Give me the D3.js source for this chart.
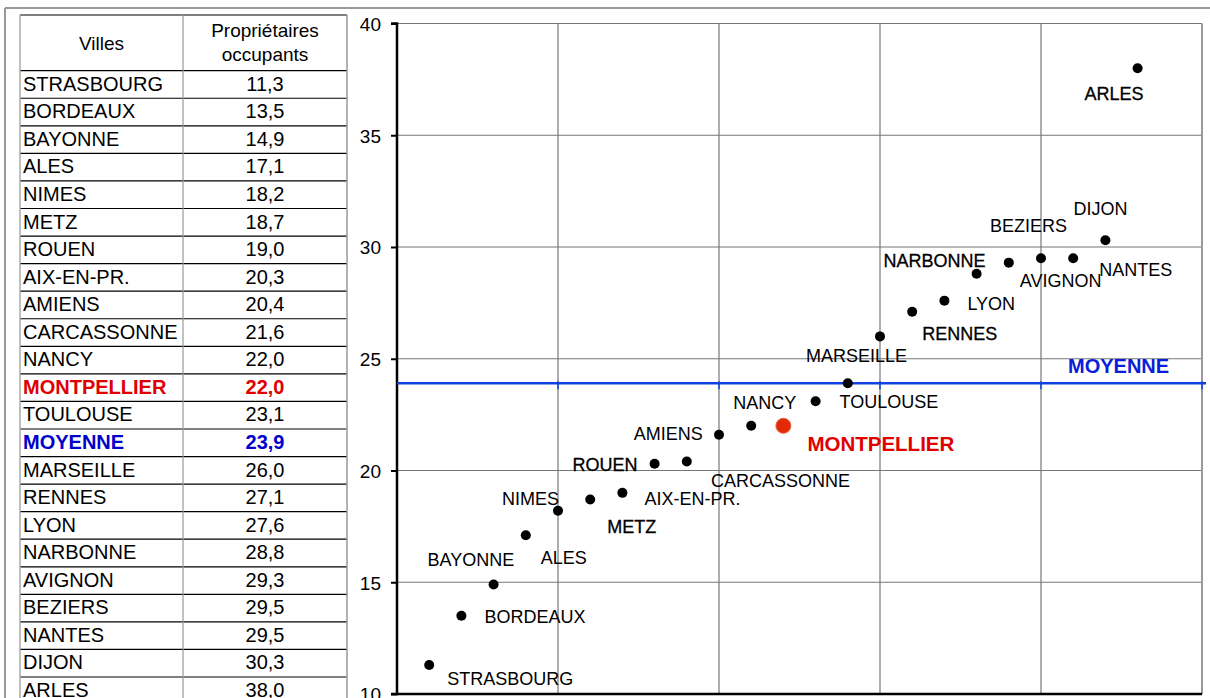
<!DOCTYPE html>
<html><head><meta charset="utf-8">
<script src="https://cdn.jsdelivr.net/npm/d3@7"></script>
<style>body{margin:0;background:#fff;overflow:hidden}svg{display:block;font-family:"Liberation Sans",Arial,sans-serif}</style>
</head><body>
<svg id="c" width="1210" height="698"></svg>
<script>
const villes = ["STRASBOURG","BORDEAUX","BAYONNE","ALES","NIMES","METZ","ROUEN","AIX-EN-PR.","AMIENS","CARCASSONNE","NANCY","MONTPELLIER","TOULOUSE","MOYENNE","MARSEILLE","RENNES","LYON","NARBONNE","AVIGNON","BEZIERS","NANTES","DIJON","ARLES"];
const valeurs = [11.3,13.5,14.9,17.1,18.2,18.7,19.0,20.3,20.4,21.6,22.0,22.0,23.1,23.9,26.0,27.1,27.6,28.8,29.3,29.5,29.5,30.3,38.0];
const yTicks = [10,15,20,25,30,35,40];
const xTicks = [0,5,10,15,20,25];
const header = ["Villes","Propriétaires","occupants"];
const moyenneNom = "MOYENNE";
const montpellierNom = "MONTPELLIER";
// label offsets (layout only) relative to each point
const labelOffsets = [[18,20],[23,7],[-66,-18],[15,29],[-56,-6],[17,33],[-50,-22],[-10,41],[-53,-22],[-8,52],[-18,-17],[24,25],[24,7],null,[-74,26],[10,28],[23,9],[-93,-7],[11,24],[-51,-26],[26,18],[-32,-25],[-53,32]];
const heavy = new Set(["ROUEN","METZ","NARBONNE","RENNES","ARLES"]);

const svg = d3.select("#c");
const fmt = v => d3.format(".1f")(v).replace(".", ",");
const colorOf = n => n === montpellierNom ? "#e00000" : (n === moyenneNom ? "#0000cc" : "#000");

// outer frame
svg.append("line").attr("x1",5).attr("x2",1210).attr("y1",8).attr("y2",8).attr("stroke","#999").attr("stroke-width",2);
svg.append("line").attr("x1",5).attr("x2",5).attr("y1",8).attr("y2",698).attr("stroke","#999").attr("stroke-width",2);

// ---- table ----
const tL = 20, tM = 183, tR = 347, tTop = 15, hBot = 70.7, rowH = 27.56;
const tb = svg.append("g");
tb.append("line").attr("x1",tL).attr("x2",tR).attr("y1",tTop).attr("y2",tTop).attr("stroke","#000").attr("stroke-width",1.2);
const rowY = i => hBot + i*rowH;
villes.forEach((v,i)=>{
  tb.append("line").attr("x1",tL).attr("x2",tR).attr("y1",rowY(i)).attr("y2",rowY(i)).attr("stroke","#000").attr("stroke-width",1.2);
});
tb.append("line").attr("x1",tL).attr("x2",tL).attr("y1",tTop).attr("y2",698).attr("stroke","#aaa").attr("stroke-width",1.5);
tb.append("line").attr("x1",tM).attr("x2",tM).attr("y1",tTop).attr("y2",698).attr("stroke","#999").attr("stroke-width",1.2);
tb.append("line").attr("x1",tR).attr("x2",tR).attr("y1",tTop).attr("y2",698).attr("stroke","#999").attr("stroke-width",1.5);
tb.append("text").attr("x",(tL+tM)/2).attr("y",50).attr("text-anchor","middle").attr("font-size",19).text(header[0]);
tb.append("text").attr("x",265).attr("y",37).attr("text-anchor","middle").attr("font-size",19).text(header[1]);
tb.append("text").attr("x",265).attr("y",61).attr("text-anchor","middle").attr("font-size",19).text(header[2]);
villes.forEach((v,i)=>{
  const special = v===montpellierNom || v===moyenneNom;
  const base = rowY(i) + 20;
  tb.append("text").attr("x",23).attr("y",base).attr("font-size",20)
    .attr("font-weight",special?"bold":"normal").attr("fill",colorOf(v)).text(v);
  tb.append("text").attr("x",265).attr("y",base).attr("text-anchor","middle").attr("font-size",20)
    .attr("font-weight",special?"bold":"normal").attr("fill",colorOf(v)).text(fmt(valeurs[i]));
});

// ---- chart ----
const x = d3.scaleLinear().domain([0,25]).range([397,1202]);
const y = d3.scaleLinear().domain([10,40]).range([694,23.5]);
const g = svg.append("g");
// grid
g.selectAll(".hg").data(yTicks.filter(t=>t>10)).join("line")
  .attr("x1",x(0)).attr("x2",x(25)).attr("y1",d=>y(d)).attr("y2",d=>y(d)).attr("stroke","#777").attr("stroke-width",1.2);
g.selectAll(".vg").data(xTicks.filter(t=>t>0)).join("line")
  .attr("x1",d=>x(d)).attr("x2",d=>x(d)).attr("y1",y(40)).attr("y2",y(10)).attr("stroke",d=>d===25?"#999":"#777").attr("stroke-width",d=>d===25?2:1.2);
// axes
const yAxis = d3.axisLeft(y).tickValues(yTicks).tickSize(6).tickPadding(10).tickFormat(d3.format("d"));
const ya = g.append("g").attr("transform",`translate(${x(0)},0)`).call(yAxis);
ya.select(".domain").attr("stroke","#000").attr("stroke-width",2.5).attr("d",`M-6,${y(40)}H0V${y(10)}H-6`);
ya.selectAll(".tick line").attr("stroke","#000").attr("stroke-width",2);
ya.selectAll(".tick text").attr("font-size",19).attr("font-family","Liberation Sans, Arial, sans-serif").attr("fill","#000").attr("dy","0.36em");
g.append("line").attr("x1",x(0)).attr("x2",x(25)).attr("y1",y(10)).attr("y2",y(10)).attr("stroke","#000").attr("stroke-width",2.5);

// moyenne line
const moy = valeurs[villes.indexOf(moyenneNom)];
g.append("line").attr("x1",x(0)).attr("x2",1206).attr("y1",y(moy)).attr("y2",y(moy)).attr("stroke","#1040e0").attr("stroke-width",2.5);
g.selectAll(".mt").data(xTicks.filter(t=>t>0)).join("line")
  .attr("x1",d=>x(d)).attr("x2",d=>x(d)).attr("y1",y(moy)-2).attr("y2",y(moy)+6).attr("stroke","#1040e0").attr("stroke-width",1.5);
g.append("text").attr("x",1068).attr("y",y(moy)-10.5).attr("font-size",20).attr("font-weight","bold").attr("fill","#0a1ed8").text(moyenneNom);

// points
villes.forEach((v,i)=>{
  const cx = x(i+1), cy = y(valeurs[i]);
  if (v===montpellierNom) {
    g.append("circle").attr("cx",cx).attr("cy",cy).attr("r",7.5).attr("fill","#e02a0a").attr("stroke","#f06040").attr("stroke-width",1);
  } else {
    g.append("circle").attr("cx",cx).attr("cy",cy).attr("r",5).attr("fill","#000");
  }
  const off = labelOffsets[i];
  if (!off) return;
  const t = g.append("text").attr("x",cx+off[0]).attr("y",cy+off[1]).text(v);
  if (v===montpellierNom) {
    t.attr("font-size",20.5).attr("font-weight","bold").attr("fill","#e00000");
  } else {
    t.attr("font-size",18).attr("fill","#000");
    if (heavy.has(v)) t.attr("stroke","#000").attr("stroke-width",0.3);
  }
});
</script>
</body></html>
